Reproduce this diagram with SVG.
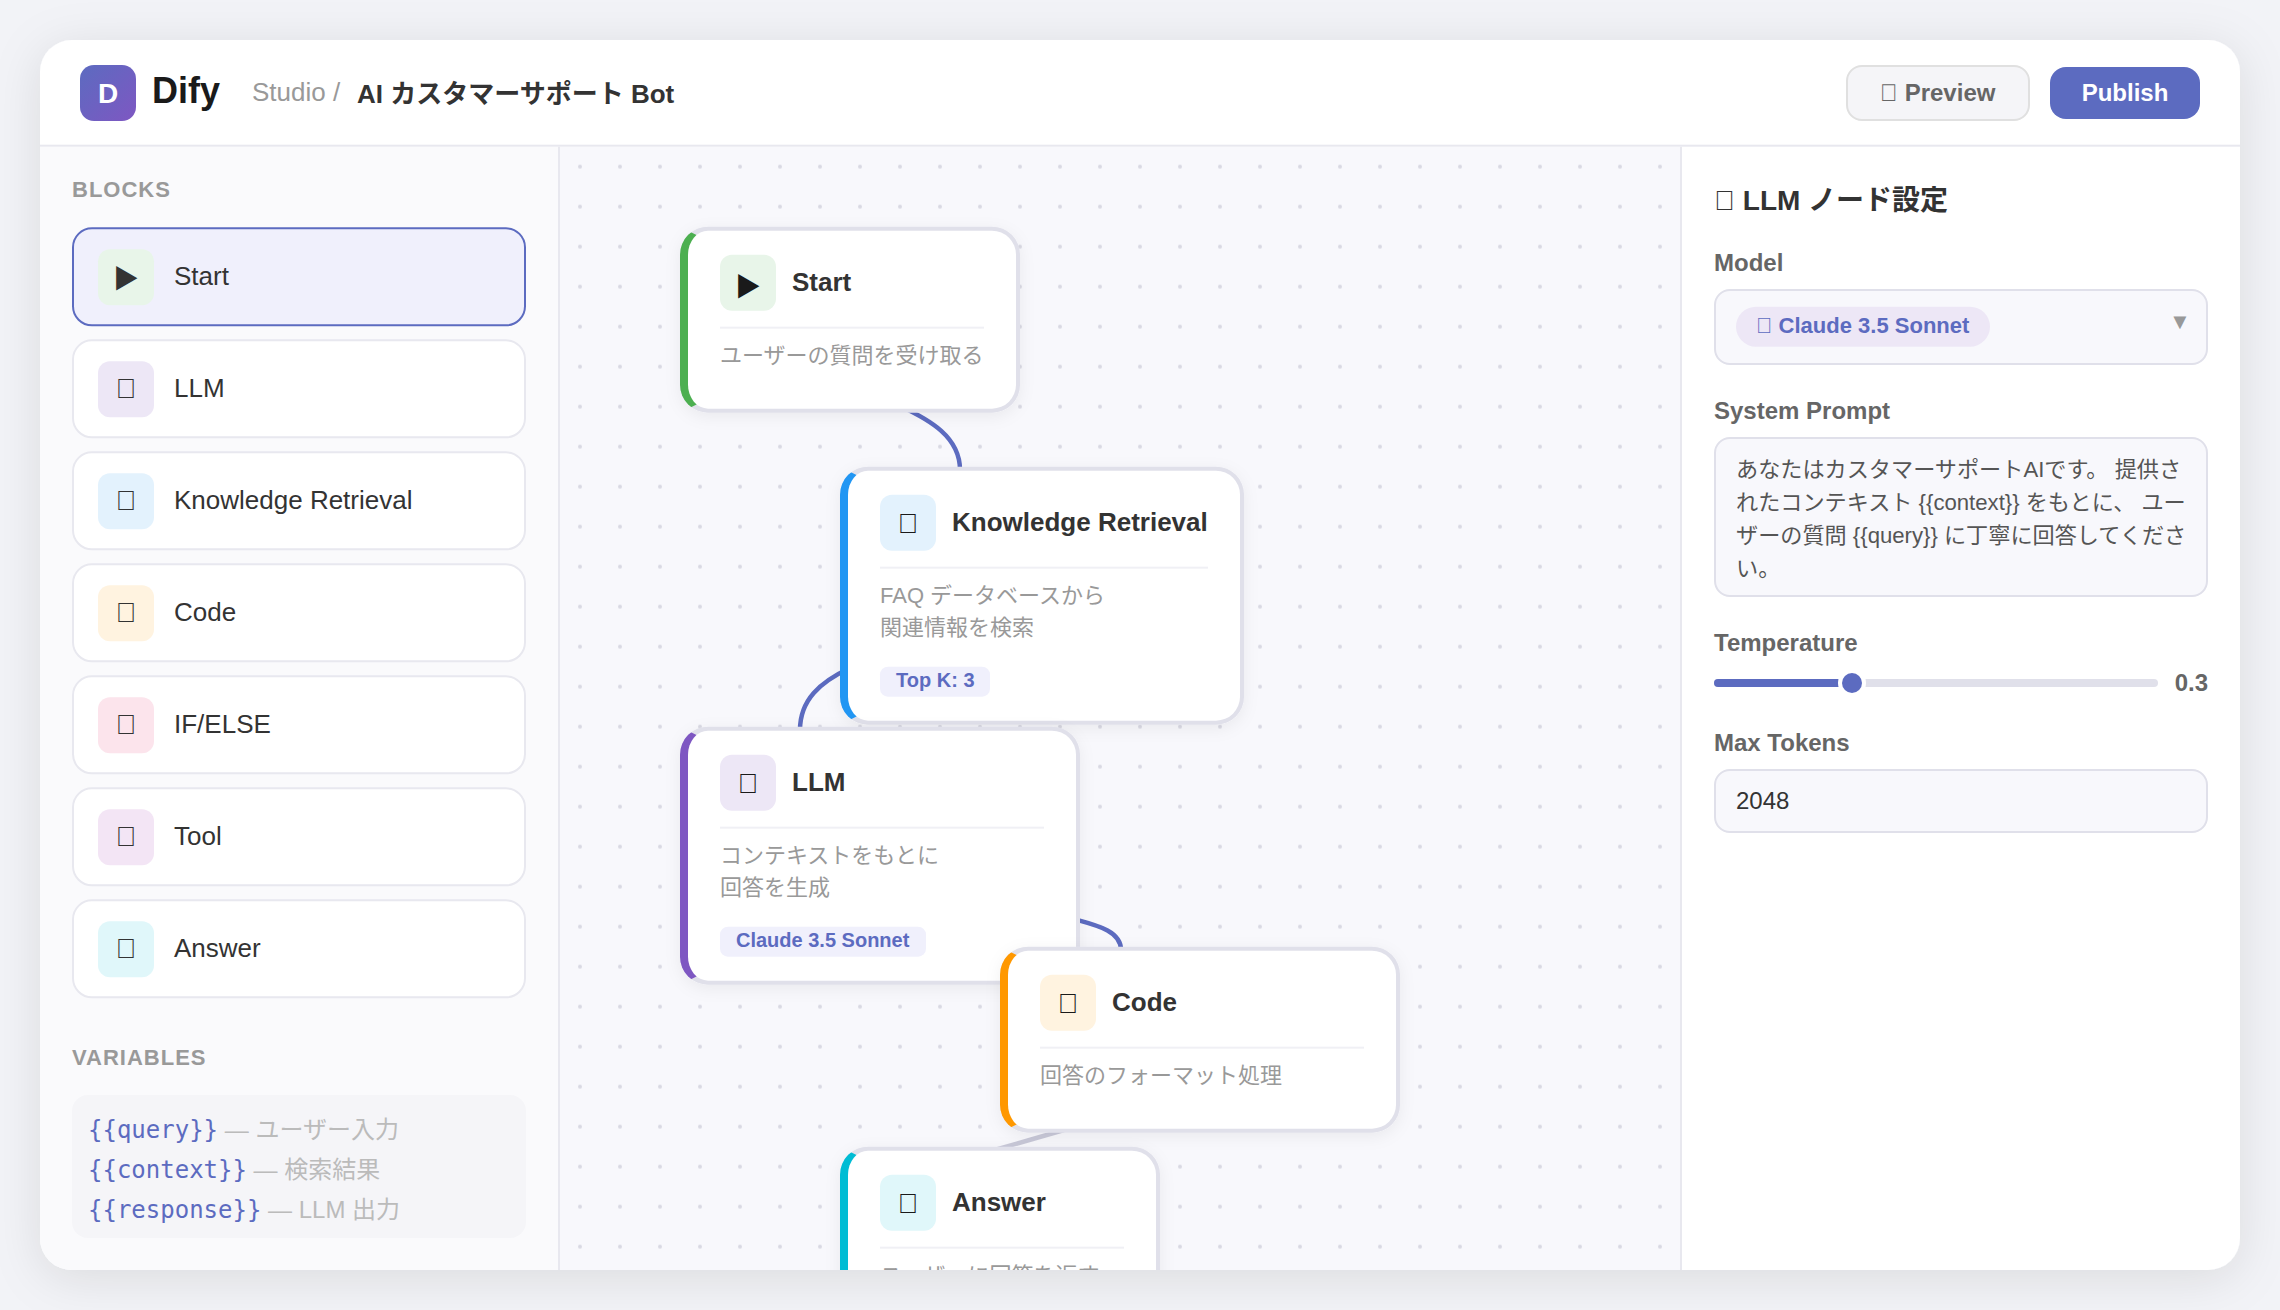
<svg xmlns="http://www.w3.org/2000/svg" width="2280" height="1310" viewBox="0 0 2280 1310">
<style>
text{font-family:"Liberation Sans","Noto Sans CJK JP",sans-serif;white-space:pre}
.sec{font-size:22px;font-weight:700;fill:#999;letter-spacing:1px}
.iname{font-size:26px;fill:#333}
.ico{font-size:28px;text-anchor:middle;fill:#333}
.nico{font-size:28px;text-anchor:middle;fill:#1a1a1a}
.tri{font-size:26px;text-anchor:middle}
.ibox{stroke:#E8E8EF;stroke-width:2;fill:#fff}
.title{font-size:26px;font-weight:700;fill:#333}
.desc{font-size:22px;fill:#999}
.tagt{font-size:20px;font-weight:700;fill:#5C6BC0}
.tag{fill:#F0F0FC}
.bord{fill:#E0E0EA}
.in{fill:#fff}
.div{fill:#F0F0F5}
.lab{font-size:24px;font-weight:700;fill:#666}
.fld{fill:#F8F8FC;stroke:#E0E0EA;stroke-width:2}
.mono{font-family:"DejaVu Sans Mono",monospace;font-size:24px;fill:#5C6BC0}
.vd{font-size:24px;fill:#BBB}
.pr{font-size:22.15px;fill:#555}
.conn{fill:none;stroke:#5C6BC0;stroke-width:4.5}
</style>
<defs>
<linearGradient id="logo" x1="0" y1="0" x2="1" y2="1"><stop offset="0" stop-color="#5C6BC0"/><stop offset="1" stop-color="#7E57C2"/></linearGradient>
<pattern id="dots" patternUnits="userSpaceOnUse" x="560" y="146.67" width="40" height="40"><circle cx="20" cy="20" r="2" fill="#D9D9E3"/></pattern>
<clipPath id="cardclip"><rect x="40" y="40" width="2200" height="1230" rx="32"/></clipPath>
<clipPath id="c186"><polygon points="0,0 28,14 28,172 0,186"/></clipPath>
<clipPath id="c258"><polygon points="0,0 28,14 28,244 0,258"/></clipPath>
<filter id="sh" x="-10%" y="-10%" width="120%" height="125%"><feDropShadow dx="0" dy="8" stdDeviation="24" flood-color="#000" flood-opacity="0.1"/></filter>
<filter id="ns" x="-15%" y="-15%" width="130%" height="130%"><feDropShadow dx="0" dy="4" stdDeviation="8" flood-color="#000" flood-opacity="0.06"/></filter>
</defs>
<rect width="2280" height="1310" fill="#F2F3F7"/>
<rect x="40" y="40" width="2200" height="1230" rx="32" fill="#fff" filter="url(#sh)"/>
<g clip-path="url(#cardclip)">
<rect x="40" y="146.67" width="520" height="1124" fill="#FAFAFC"/>
<rect x="558" y="146.67" width="2" height="1124" fill="#E8E8EF"/>
<rect x="560" y="146.67" width="1120" height="1124" fill="#F8F8FC"/>
<rect x="560" y="146.67" width="1120" height="1124" fill="url(#dots)"/>
<rect x="1680" y="146.67" width="2" height="1124" fill="#E8E8EF"/>
<rect x="40" y="144.67" width="2200" height="2" fill="#E8E8EF"/>

<g id="header">
<rect x="80" y="65" width="56" height="56" rx="14" fill="url(#logo)"/>
<text x="108" y="103" font-size="28" font-weight="700" fill="#fff" text-anchor="middle">D</text>
<text x="152" y="102.5" font-size="36" font-weight="700" fill="#1a1a1a">Dify</text>
<text x="252" y="101" font-size="26" fill="#999">Studio /</text>
<text x="357" y="103" font-size="26" font-weight="700" fill="#333">AI カスタマーサポート Bot</text>
<rect x="1847" y="66" width="182" height="54" rx="15" fill="#F5F5F8" stroke="#E0E0E0" stroke-width="2"/>
<text x="1880" y="101" font-size="24" font-weight="700" fill="#666">&#xE000; Preview</text>
<rect x="2050" y="67" width="150" height="52" rx="16" fill="#5C6BC0"/>
<text x="2125" y="101" font-size="24" font-weight="700" fill="#fff" text-anchor="middle">Publish</text>
</g>

<g id="sidebar">
<text class="sec" x="72" y="197">BLOCKS</text>
<g id="block-start" transform="translate(72,227.33)"><rect x="1" y="1" width="452" height="97" rx="19" fill="#F0F0FC" stroke="#5C6BC0" stroke-width="2"/><rect x="26" y="22" width="56" height="56" rx="12" fill="#E8F5E9"/><text class="ico tri" x="54" y="61">▶</text><text class="iname" x="102" y="58">Start</text></g>
<g id="block-llm" transform="translate(72,339.33)"><rect class="ibox" x="1" y="1" width="452" height="97" rx="19"/><rect x="26" y="22" width="56" height="56" rx="12" fill="#EDE7F6"/><text class="ico" x="54" y="59">&#xE000;</text><text class="iname" x="102" y="58">LLM</text></g>
<g id="block-knowledge" transform="translate(72,451.33)"><rect class="ibox" x="1" y="1" width="452" height="97" rx="19"/><rect x="26" y="22" width="56" height="56" rx="12" fill="#E3F2FD"/><text class="ico" x="54" y="59">&#xE000;</text><text class="iname" x="102" y="58">Knowledge Retrieval</text></g>
<g id="block-code" transform="translate(72,563.33)"><rect class="ibox" x="1" y="1" width="452" height="97" rx="19"/><rect x="26" y="22" width="56" height="56" rx="12" fill="#FFF3E0"/><text class="ico" x="54" y="59">&#xE000;</text><text class="iname" x="102" y="58">Code</text></g>
<g id="block-ifelse" transform="translate(72,675.33)"><rect class="ibox" x="1" y="1" width="452" height="97" rx="19"/><rect x="26" y="22" width="56" height="56" rx="12" fill="#FCE4EC"/><text class="ico" x="54" y="59">&#xE000;</text><text class="iname" x="102" y="58">IF/ELSE</text></g>
<g id="block-tool" transform="translate(72,787.33)"><rect class="ibox" x="1" y="1" width="452" height="97" rx="19"/><rect x="26" y="22" width="56" height="56" rx="12" fill="#F3E5F5"/><text class="ico" x="54" y="59">&#xE000;</text><text class="iname" x="102" y="58">Tool</text></g>
<g id="block-answer" transform="translate(72,899.33)"><rect class="ibox" x="1" y="1" width="452" height="97" rx="19"/><rect x="26" y="22" width="56" height="56" rx="12" fill="#E0F7FA"/><text class="ico" x="54" y="59">&#xE000;</text><text class="iname" x="102" y="58">Answer</text></g>
<text class="sec" x="72" y="1065">VARIABLES</text>
<rect x="72" y="1095" width="454" height="143" rx="16" fill="#F5F5F8"/>
<text x="88" y="1138"><tspan class="mono">{{query}}</tspan><tspan class="vd"> — ユーザー入力</tspan></text>
<text x="88" y="1178"><tspan class="mono">{{context}}</tspan><tspan class="vd"> — 検索結果</tspan></text>
<text x="88" y="1218"><tspan class="mono">{{response}}</tspan><tspan class="vd"> — LLM 出力</tspan></text>
</g>

<g id="connectors">
<path class="conn" d="M900 406C930 420 960 437 960 470"/>
<path class="conn" d="M850 668C820 682 800 700 800 730"/>
<path class="conn" d="M1070 918C1095 925 1121 930 1121 950"/>
<path class="conn" d="M1064 1130L993 1150.5" style="stroke:#C8C8D8"/>
</g>

<g id="node-start" transform="translate(680,226.67)">
<rect class="bord" width="340" height="186" rx="28" filter="url(#ns)"/><rect width="340" height="186" rx="28" fill="#4CAF50" clip-path="url(#c186)"/>
<path class="in" d="M28 4H312A24 24 0 0 1 336 28V158A24 24 0 0 1 312 182H28A20 24 0 0 1 8 158V28A20 24 0 0 1 28 4Z"/>
<rect x="40" y="28" width="56" height="56" rx="12" fill="#E8F5E9"/><text class="nico tri" x="68" y="69">▶</text><text class="title" x="112" y="64.5">Start</text>
<rect class="div" x="40" y="100" width="264" height="2"/>
<text class="desc" x="40" y="136">ユーザーの質問を受け取る</text>
</g>

<g id="node-knowledge" transform="translate(840,466.67)">
<rect class="bord" width="404" height="258" rx="28" filter="url(#ns)"/><rect width="404" height="258" rx="28" fill="#2196F3" clip-path="url(#c258)"/>
<path class="in" d="M28 4H376A24 24 0 0 1 400 28V230A24 24 0 0 1 376 254H28A20 24 0 0 1 8 230V28A20 24 0 0 1 28 4Z"/>
<rect x="40" y="28" width="56" height="56" rx="12" fill="#E3F2FD"/><text class="nico" x="68" y="66">&#xE000;</text><text class="title" x="112" y="64.5">Knowledge Retrieval</text>
<rect class="div" x="40" y="100" width="328" height="2"/>
<text class="desc" x="40" y="136">FAQ データベースから</text><text class="desc" x="40" y="168">関連情報を検索</text>
<rect class="tag" x="40" y="200" width="110" height="30" rx="8"/><text class="tagt" x="56" y="220.5">Top K: 3</text>
</g>

<g id="node-llm" transform="translate(680,726.67)">
<rect class="bord" width="400" height="258" rx="28" filter="url(#ns)"/><rect width="400" height="258" rx="28" fill="#7E57C2" clip-path="url(#c258)"/>
<path class="in" d="M28 4H372A24 24 0 0 1 396 28V230A24 24 0 0 1 372 254H28A20 24 0 0 1 8 230V28A20 24 0 0 1 28 4Z"/>
<rect x="40" y="28" width="56" height="56" rx="12" fill="#EDE7F6"/><text class="nico" x="68" y="66">&#xE000;</text><text class="title" x="112" y="64.5">LLM</text>
<rect class="div" x="40" y="100" width="324" height="2"/>
<text class="desc" x="40" y="136">コンテキストをもとに</text><text class="desc" x="40" y="168">回答を生成</text>
<rect class="tag" x="40" y="200" width="206" height="30" rx="8"/><text class="tagt" x="56" y="220.5">Claude 3.5 Sonnet</text>
</g>

<g id="node-code" transform="translate(1000,946.67)">
<rect class="bord" width="400" height="186" rx="28" filter="url(#ns)"/><rect width="400" height="186" rx="28" fill="#FF9800" clip-path="url(#c186)"/>
<path class="in" d="M28 4H372A24 24 0 0 1 396 28V158A24 24 0 0 1 372 182H28A20 24 0 0 1 8 158V28A20 24 0 0 1 28 4Z"/>
<rect x="40" y="28" width="56" height="56" rx="12" fill="#FFF3E0"/><text class="nico" x="68" y="66">&#xE000;</text><text class="title" x="112" y="64.5">Code</text>
<rect class="div" x="40" y="100" width="324" height="2"/>
<text class="desc" x="40" y="136">回答のフォーマット処理</text>
</g>

<g id="node-answer" transform="translate(840,1146.67)">
<rect class="bord" width="320" height="186" rx="28" filter="url(#ns)"/><rect width="320" height="186" rx="28" fill="#00BCD4" clip-path="url(#c186)"/>
<path class="in" d="M28 4H292A24 24 0 0 1 316 28V158A24 24 0 0 1 292 182H28A20 24 0 0 1 8 158V28A20 24 0 0 1 28 4Z"/>
<rect x="40" y="28" width="56" height="56" rx="12" fill="#E0F7FA"/><text class="nico" x="68" y="66">&#xE000;</text><text class="title" x="112" y="64.5">Answer</text>
<rect class="div" x="40" y="100" width="244" height="2"/>
<text class="desc" x="40" y="136">ユーザーに回答を返す</text>
</g>

<g id="panel">
<text x="1714" y="210" font-size="28" font-weight="700" fill="#333">&#xE000; LLM ノード設定</text>
<text class="lab" x="1714" y="271">Model</text>
<rect class="fld" x="1715" y="290" width="492" height="74" rx="15"/>
<rect x="1736" y="306.67" width="254" height="40" rx="20" fill="#EDE7F6"/>
<text x="1756" y="333" font-size="22" font-weight="700" fill="#5C6BC0">&#xE000; Claude 3.5 Sonnet</text>
<text x="2180" y="329" font-size="22" fill="#999" text-anchor="middle">▼</text>
<text class="lab" x="1714" y="419">System Prompt</text>
<rect class="fld" x="1715" y="438" width="492" height="158" rx="15"/>
<text class="pr" x="1736" y="477">あなたはカスタマーサポートAIです。 提供さ</text>
<text class="pr" x="1736" y="509.5">れたコンテキスト {{context}} をもとに、 ユー</text>
<text class="pr" x="1736" y="542.5">ザーの質問 {{query}} に丁寧に回答してくださ</text>
<text class="pr" x="1736" y="575.5">い。</text>
<text class="lab" x="1714" y="651">Temperature</text>
<rect x="1714" y="679" width="444" height="8" rx="4" fill="#E0E0EA"/>
<rect x="1714" y="679" width="140" height="8" rx="4" fill="#5C6BC0"/>
<circle cx="1852" cy="683" r="14" fill="#fff"/><circle cx="1852" cy="683" r="10" fill="#5C6BC0"/>
<text class="lab" x="2208" y="691" text-anchor="end">0.3</text>
<text class="lab" x="1714" y="751">Max Tokens</text>
<rect class="fld" x="1715" y="770" width="492" height="62" rx="15"/>
<text x="1736" y="809" font-size="24" fill="#333">2048</text>
</g>
</g>
</svg>
